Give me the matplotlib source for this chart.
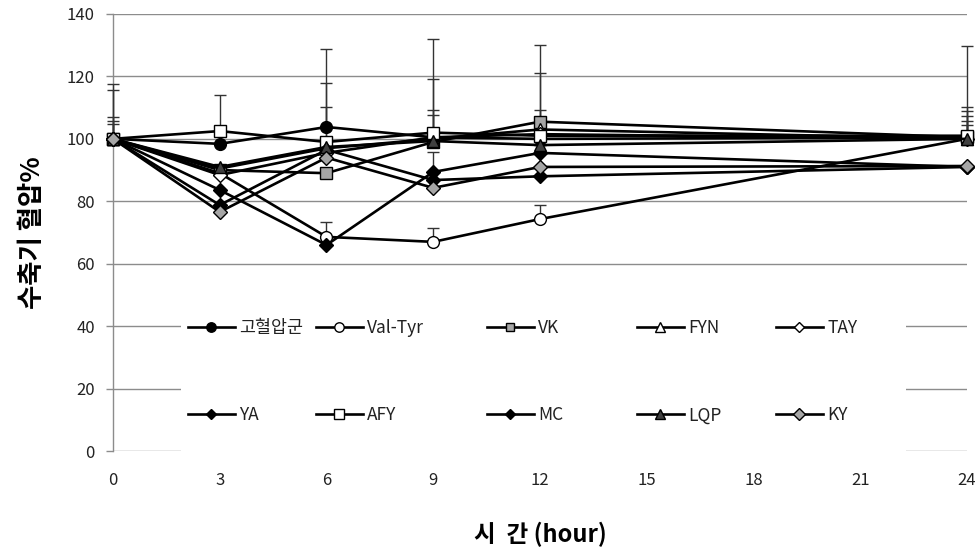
import matplotlib
matplotlib.use("Agg")
import matplotlib.pyplot as plt
from matplotlib.patches import Rectangle
import numpy as np

plt.rcParams['font.family'] = ['Liberation Sans Narrow', 'Noto Sans CJK KR', 'DejaVu Sans']

hours = [0, 3, 6, 9, 12, 24]
x_ticks = [0, 3, 6, 9, 12, 15, 18, 21, 24]
y_ticks = [0, 20, 40, 60, 80, 100, 120, 140]

labels = ['고혈압군', 'Val-Tyr', 'VK', 'FYN', 'TAY', 'YA', 'AFY', 'MC', 'LQP', 'KY']

hypertension = [100, 98.4, 103.8, 100.5, 100.0, 100.5]
val_tyr      = [100, 89.0, 68.6, 67.0, 74.3, 100.0]
vk           = [100, 90.0, 89.0, 99.0, 105.5, 100.5]
fyn          = [100, 90.5, 97.0, 100.0, 103.0, 100.0]
tay          = [100, 88.4, 95.5, 100.5, 101.5, 100.0]
ya           = [100, 83.6, 66.0, 89.4, 95.5, 91.0]
afy          = [100, 102.5, 99.0, 102.0, 101.0, 101.0]
mc           = [100, 78.8, 96.5, 86.8, 88.0, 91.0]
lqp          = [100, 91.0, 97.4, 99.3, 98.0, 100.0]
ky           = [100, 76.6, 94.0, 84.3, 91.0, 91.3]

err_hypertension = [17.6, 0, 24.9, 18.7, 0, 29.3]
err_val_tyr      = [15.7, 0, 4.9, 4.4, 4.5, 0]
err_vk           = [7.0, 0, 0, 0, 24.7, 8.5]
err_fyn          = [5.8, 0, 0, 9.3, 18.0, 5.8]
err_tay          = [0, 0, 0, 0, 0, 4.5]
err_ya           = [0, 0, 0, 6.5, 0, 0]
err_afy          = [4.8, 11.5, 18.8, 29.9, 8.3, 9.3]
err_mc           = [0, 0, 0, 0, 0, 0]
err_lqp          = [0, 0, 12.9, 8.4, 0, 7.3]
err_ky           = [0, 0, 0, 0, 0, 0]

series = [hypertension, val_tyr, vk, fyn, tay, ya, afy, mc, lqp, ky]
errors = [err_hypertension, err_val_tyr, err_vk, err_fyn, err_tay, err_ya,
          err_afy, err_mc, err_lqp, err_ky]

styles = [
    dict(marker='o', mfc='black', ms=8.5),
    dict(marker='o', mfc='white', ms=8.5),
    dict(marker='s', mfc='#a6a6a6', ms=8),
    dict(marker='^', mfc='white', ms=9),
    dict(marker='D', mfc='white', ms=7),
    dict(marker='D', mfc='black', ms=7),
    dict(marker='s', mfc='white', ms=9),
    dict(marker='D', mfc='black', ms=7),
    dict(marker='^', mfc='#404040', ms=9),
    dict(marker='D', mfc='#a6a6a6', ms=7.5),
]

W, H = 979, 553
fig = plt.figure(figsize=(W / 100, H / 100), dpi=100)
L, R, T, B = 113, 967, 14, 451
ax = fig.add_axes([L / W, 1 - B / H, (R - L) / W, (B - T) / H])

ax.set_xlim(0, 24)
ax.set_ylim(0, 140)
ax.set_axisbelow(True)
ax.yaxis.grid(True, color='#8c8c8c', lw=1.0)
ax.xaxis.grid(False)
for s in ['top', 'right', 'bottom']:
    ax.spines[s].set_visible(False)
ax.spines['left'].set_color('#8c8c8c')
ax.spines['left'].set_linewidth(1.0)

ax.set_xticks(x_ticks)
ax.set_xticklabels([str(v) for v in x_ticks])
ax.set_yticks(y_ticks)
ax.set_yticklabels([str(v) for v in y_ticks])
ax.tick_params(axis='x', length=0, pad=15, labelsize=12, colors='#222222')
ax.tick_params(axis='y', length=5, width=1, color='#8c8c8c', pad=8, labelsize=12,
               labelcolor='#222222')

handles = []
for vals, errs, st, lab in zip(series, errors, styles, labels):
    e = np.array(errs, dtype=float)
    eb = ax.errorbar(hours, vals, yerr=[np.zeros_like(e), e], fmt='none',
                     ecolor='#333333', elinewidth=1.0, capsize=4, capthick=1.0,
                     zorder=3)
    for art in eb.get_children():
        art.set_clip_on(False)
    ln, = ax.plot(hours, vals, color='black', lw=1.9, marker=st['marker'],
                  mfc=st['mfc'], mec='black', mew=1.0, ms=st['ms'],
                  label=lab, zorder=4, clip_on=False)
    handles.append(ln)

# white legend backdrop (covers gridlines like the original)
bg = Rectangle((181 / W, 1 - 462 / H), (906 - 181) / W, (462 - 292) / H,
               transform=fig.transFigure, facecolor='white', edgecolor='none',
               zorder=1)
fig.patches.append(bg)

col_x = [188, 316, 487, 637, 776]
for c in range(5):
    hs = [handles[c], handles[c + 5]]
    lg = fig.legend(handles=hs, labels=[labels[c], labels[c + 5]],
                    loc='upper left', bbox_to_anchor=(col_x[c] / W, 1 - 319 / H),
                    bbox_transform=fig.transFigure, frameon=False,
                    fontsize=12.5, borderpad=0, borderaxespad=0,
                    handlelength=2.7, handletextpad=0.25, labelspacing=4.0,
                    numpoints=1, markerscale=0.8)
    for t in lg.get_texts():
        t.set_color('#222222')

ax.set_ylabel('수축기 혈압%', fontsize=19, fontweight='bold',
              family=['Noto Sans CJK KR', 'DejaVu Sans'])
ax.yaxis.set_label_coords((46 - L) / (R - L), 0.5)
ax.set_xlabel('시  간 (hour)', fontsize=17, fontweight='bold',
              family=['Noto Sans CJK KR', 'DejaVu Sans'])
ax.xaxis.set_label_coords(0.5, -(522 - B) / (B - T))

fig.savefig('out.png', dpi=100, facecolor='white')
